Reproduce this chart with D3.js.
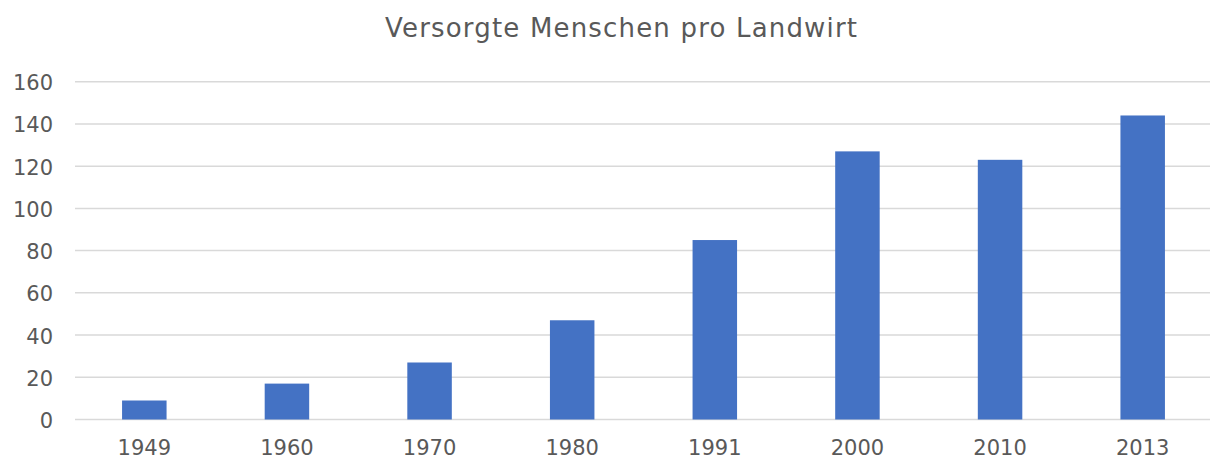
<!DOCTYPE html>
<html>
<head>
<meta charset="utf-8">
<script src="https://cdn.jsdelivr.net/npm/d3@7"></script>
<style>
  body { margin: 0; background: #fff; }
  svg { display: block; }
</style>
</head>
<body>
<svg id="chart" width="1210" height="462"></svg>
<script>
// Chart data
const years = ["1949", "1960", "1970", "1980", "1991", "2000", "2010", "2013"];
const people = [9, 17, 27, 47, 85, 127, 123, 144];
const yTicks = [0, 20, 40, 60, 80, 100, 120, 140, 160];
const title = "Versorgte Menschen pro Landwirt";

const font = "'DejaVu Sans'";
const width = 1210, height = 462;
const svg = d3.select("#chart");

const x = d3.scaleBand()
    .domain(years)
    .range([73, 1214])
    .paddingInner(0.688)
    .paddingOuter(0.344);

const y = d3.scaleLinear()
    .domain([0, 160])
    .range([419.5, 81.7]);

// gridlines
svg.append("g")
    .selectAll("line")
    .data(yTicks)
    .enter().append("line")
    .attr("x1", 75)
    .attr("x2", width)
    .attr("y1", d => y(d))
    .attr("y2", d => y(d))
    .attr("stroke", "#d9d9d9")
    .attr("stroke-width", 1.5);

// y axis labels
const yAxis = svg.append("g")
    .attr("transform", "translate(62,0)")
    .call(d3.axisLeft(y).tickValues(yTicks).tickSize(0).tickPadding(9))
    .attr("font-family", null);
yAxis.select(".domain").remove();
yAxis.selectAll("text")
    .attr("fill", "#595959")
    .attr("dy", "0.38em")
    .style("font-family", font)
    .style("font-size", "21px");

// bars
svg.append("g")
    .selectAll("rect")
    .data(people)
    .enter().append("rect")
    .attr("x", (d, i) => x(years[i]))
    .attr("width", x.bandwidth())
    .attr("y", d => y(d))
    .attr("height", d => y(0) - y(d))
    .attr("fill", "#4472c4");

// x axis labels
const xAxis = svg.append("g")
    .attr("transform", `translate(0,${y(0)})`)
    .call(d3.axisBottom(x).tickSize(0).tickPadding(21))
    .attr("font-family", null);
xAxis.select(".domain").remove();
xAxis.selectAll("text")
    .attr("fill", "#595959")
    .style("font-family", font)
    .style("font-size", "21px");

// title
svg.append("text")
    .attr("x", 621)
    .attr("y", 37)
    .attr("text-anchor", "middle")
    .attr("fill", "#595959")
    .attr("textLength", 472)
    .attr("lengthAdjust", "spacing")
    .style("font-family", font)
    .style("font-size", "26px")
    .text(title);
</script>
</body>
</html>
